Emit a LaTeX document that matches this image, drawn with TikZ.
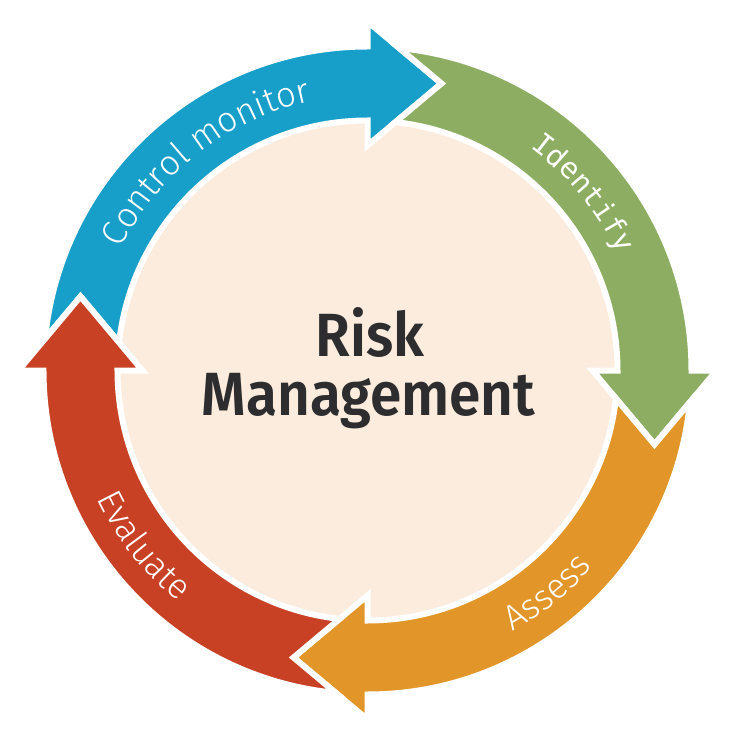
\documentclass[tikz,border=0pt]{standalone}
\usepackage{fontspec}
\setmainfont{Fira Sans}
\newfontfamily\identfont{DejaVu Sans Mono}
\IfFontExistsTF{Fira Sans Book}{\newfontfamily\ringfont{Fira Sans Book}}{%
  \IfFontExistsTF{Fira Sans Light}{\newfontfamily\ringfont{Fira Sans Light}}{\newcommand\ringfont{\normalfont}}}
\IfFontExistsTF{Fira Sans SemiBold}{\newfontfamily\titlefont{Fira Sans SemiBold}}{\newcommand\titlefont{\bfseries}}
\usetikzlibrary{decorations.text}
\definecolor{cblue}{HTML}{179FCA}
\definecolor{cgreen}{HTML}{8DAE62}
\definecolor{corange}{HTML}{E29528}
\definecolor{cred}{HTML}{C94125}
\definecolor{cbeige}{HTML}{FBECDD}
\definecolor{ctext}{HTML}{2D2D2F}
\newcommand\ringarrow[2]{%
  \begin{scope}[rotate=#1]
    \filldraw[arrowshape, fill=#2]
      (174.39:324) arc[start angle=174.39, end angle=90, radius=324pt]
      -- (0,349) -- (74,287) -- (0,225) -- (0,250)
      arc[start angle=90, end angle=173.58, radius=250pt]
      -- (-287,74) -- cycle;
  \end{scope}}
\tikzset{
  arrowshape/.style={draw=white, line width=6pt, line join=miter},
  ringlabel/.style={decorate, decoration={text along path, text align=center, text color=white, text={#1}}},
  titletext/.style={font=\titlefont\fontsize{61}{61}\selectfont, text=ctext, anchor=base, inner sep=0pt}
}
\begin{document}
\begin{tikzpicture}[x=1pt,y=1pt]
  \fill[white] (-367.5,-365.5) rectangle (368.5,370.5);
  \useasboundingbox (-367.5,-365.5) rectangle (368.5,370.5);
  \fill[cbeige] (0,0) circle[radius=248pt];
  \ringarrow{0}{cblue}
  \ringarrow{-90}{cgreen}
  \ringarrow{-180}{corange}
  \ringarrow{-270}{cred}
  \path[ringlabel={|\ringfont\fontsize{35}{35}\selectfont|Control monitor}]
    (167.7:275) arc[start angle=167.7, end angle=87.7, radius=275pt];
  \path[ringlabel={|\identfont\fontsize{29}{29}\selectfont|Identify}]
    (79.4:276) arc[start angle=79.4, end angle=-0.6, radius=276pt];
  \path[ringlabel={|\ringfont\fontsize{35}{35}\selectfont|Assess}]
    (-91:299) arc[start angle=-91, end angle=-11, radius=299pt];
  \path[ringlabel={|\ringfont\fontsize{35}{35}\selectfont|Evaluate}]
    (178:299) arc[start angle=178, end angle=258, radius=299pt];
  \node[titletext] (risk) at (2.4,13.5) {\scalebox{0.93}[1]{Risk}};
  \node[titletext] (mgmt) at (1,-44.5) {\scalebox{0.93}[1]{Management}};
\end{tikzpicture}
\end{document}
